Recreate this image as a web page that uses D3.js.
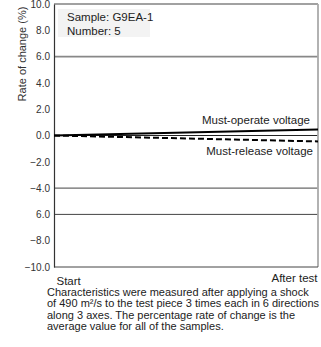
<!DOCTYPE html>
<html>
<head>
<meta charset="utf-8">
<script src="https://cdn.jsdelivr.net/npm/d3@7"></script>
<style>
  body { margin: 0; background: #fff; }
  svg { display: block; font-family: "Liberation Sans", Arial, sans-serif; }
</style>
</head>
<body>
<div id="chart"></div>
<script>
// chart data
const stages = ["Start", "After test"]
const operateValues = [0.0, 0.45]
const releaseValues = [0.0, -0.45]
const yTicks = [10, 8, 6, 4, 2, 0, -2, -4, -6, -8, -10]
const yTickLabels = ["10.0", "8.0", "6.0", "4.0", "2.0", "0.0", "\u22122.0", "\u22124.0", "6.0", "\u22128.0", "\u221210.0"]
const gridValues = [6, 0, -4, -6]
const captionLines = [
    "Characteristics were measured after applying a shock",
    "of 490 m\u00b2/s to the test piece 3 times each in 6 directions",
    "along 3 axes. The percentage rate of change is the",
    "average value for all of the samples."
]

const width = 321, height = 347
const margin = { left: 54, top: 4, right: 3, bottom: 80 }
const innerW = width - margin.left - margin.right
const innerH = height - margin.top - margin.bottom

const svg = d3.select("#chart").append("svg")
    .attr("width", width)
    .attr("height", height)

const g = svg.append("g")
    .attr("transform", `translate(${margin.left},${margin.top})`)

/** x scale: start and after test at the frame edges */
const x = d3.scalePoint().domain(stages).range([0, innerW])
/** y scale */
const y = d3.scaleLinear().domain([-10, 10]).range([innerH, 0])

// sample info box
g.append("rect")
    .attr("x", 4).attr("y", 5)
    .attr("width", 92).attr("height", 28)
    .attr("fill", "#f3f3f3")
g.append("text").attr("x", 13).attr("y", 17)
    .attr("font-size", 11.5).attr("fill", "#222")
    .text("Sample: G9EA-1")
g.append("text").attr("x", 13).attr("y", 31)
    .attr("font-size", 11.5).attr("fill", "#222")
    .text("Number: 5")

// grid lines
g.append("g")
    .selectAll("line")
    .data(gridValues)
    .enter()
    .append("line")
    .attr("x1", 0).attr("x2", innerW)
    .attr("y1", d => y(d)).attr("y2", d => y(d))
    .attr("stroke", d => d === 6 ? "#888" : (d === 0 ? "#222" : "#444"))
    .attr("stroke-width", d => d === 6 ? 1.8 : 1)

// frame
g.append("line").attr("x1", 0).attr("x2", innerW).attr("y1", 0).attr("y2", 0)
    .attr("stroke", "#444").attr("stroke-width", 1.2)
g.append("line").attr("x1", innerW).attr("x2", innerW).attr("y1", 0).attr("y2", innerH)
    .attr("stroke", "#aaa").attr("stroke-width", 1.8)
g.append("line").attr("x1", 0).attr("x2", innerW).attr("y1", innerH).attr("y2", innerH)
    .attr("stroke", "#444").attr("stroke-width", 1)

// y axis
const yAxis = d3.axisLeft(y)
    .tickValues(yTicks)
    .tickSize(0)
    .tickPadding(4)
    .tickFormat((d, i) => yTickLabels[i])
const yAxisEl = g.append("g").call(yAxis)
yAxisEl.select(".domain").attr("stroke", "#333").attr("stroke-width", 1.2)
yAxisEl.selectAll("text")
    .attr("font-size", 10)
    .attr("fill", "#333")
    .attr("font-family", "Liberation Sans, Arial, sans-serif")

// y axis label
g.append("text")
    .attr("transform", "rotate(-90)")
    .attr("x", -54 + margin.top)
    .attr("y", -28)
    .attr("text-anchor", "middle")
    .attr("font-size", 11)
    .attr("fill", "#333")
    .text("Rate of change (%)")

// x axis
const xAxis = d3.axisBottom(x).tickSize(0).tickPadding(10)
const xAxisEl = g.append("g")
    .attr("transform", `translate(0,${innerH})`)
    .call(xAxis)
xAxisEl.select(".domain").remove()
xAxisEl.selectAll("text")
    .attr("font-size", 11.5)
    .attr("fill", "#222")
    .attr("font-family", "Liberation Sans, Arial, sans-serif")
    .attr("text-anchor", (d, i) => i === 0 ? "start" : "end")
    .attr("dx", (d, i) => i === 0 ? 2 : -1)
    .attr("dy", (d, i) => i === 0 ? "0.71em" : "0.45em")

// series lines
const line = d3.line()
    .x((d, i) => x(stages[i]))
    .y(d => y(d))

g.append("path")
    .datum(operateValues)
    .attr("d", line)
    .attr("fill", "none")
    .attr("stroke", "#000")
    .attr("stroke-width", 2)

g.append("path")
    .datum(releaseValues)
    .attr("d", line)
    .attr("fill", "none")
    .attr("stroke", "#000")
    .attr("stroke-width", 2)
    .attr("stroke-dasharray", "6,3")

// series labels
g.append("text")
    .attr("x", x(stages[1]) - 8)
    .attr("y", y(operateValues[1]) - 6)
    .attr("text-anchor", "end")
    .attr("font-size", 11.5)
    .attr("fill", "#222")
    .text("Must-operate voltage")
g.append("text")
    .attr("x", x(stages[1]) - 5)
    .attr("y", y(releaseValues[1]) + 14)
    .attr("text-anchor", "end")
    .attr("font-size", 11.5)
    .attr("fill", "#222")
    .text("Must-release voltage")

// caption (kept just inside the right edge)
svg.append("g")
    .selectAll("text")
    .data(captionLines)
    .enter()
    .append("text")
    .attr("x", 47)
    .attr("y", (d, i) => 296 + i * 11.3)
    .attr("font-size", 11)
    .attr("fill", "#222")
    .text(d => d)
</script>
</body>
</html>
